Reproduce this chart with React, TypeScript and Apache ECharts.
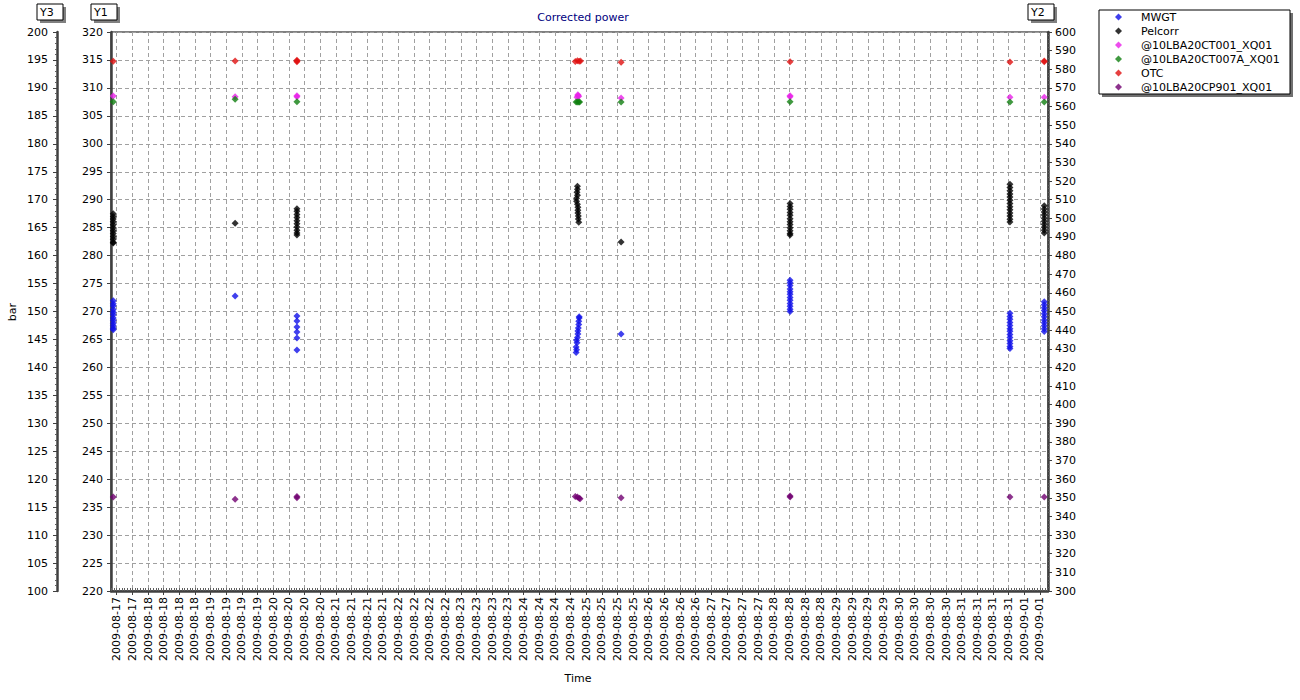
import React, { useEffect, useRef } from "react";
import * as echarts from "echarts";

const FONT = "DejaVu Sans";

// x axis: hours since 2009-08-17 00:00
const BASE = Date.UTC(2009, 7, 17, 0, 0);
const toH = (s: string) => {
  const [d, t] = s.split(" ");
  const [mo, da] = d.split("-").map(Number);
  const [hh, mm] = t.split(":").map(Number);
  return (Date.UTC(2009, mo - 1, da, hh, mm) - BASE) / 3600000;
};

const xMin = "08-17 09:48";
const xMax = "09-01 09:06";
const firstTick = "08-17 12:00";
const lastTick = "09-01 06:00";

const y1Ticks = { min: 220, max: 320, interval: 5 };
const y2Ticks = { min: 300, max: 600, interval: 10 };
const y3Ticks = { min: 100, max: 200, interval: 5 };

const seriesNames = [
  "MWGT",
  "Pelcorr",
  "@10LBA20CT001_XQ01",
  "@10LBA20CT007A_XQ01",
  "OTC",
  "@10LBA20CP901_XQ01",
];
const seriesColors = ["#1010e8", "#000000", "#e820e8", "#108010", "#e01010", "#700070"];

const mwgt: [string, number][] = [
  ["08-17 10:40", 455.8], ["08-17 10:40", 454.2], ["08-17 10:40", 452.9], ["08-17 10:40", 451.1],
  ["08-17 10:40", 449.6], ["08-17 10:40", 448.3], ["08-17 10:40", 446.5], ["08-17 10:40", 445.2],
  ["08-17 10:40", 443.7], ["08-17 10:40", 442.4], ["08-17 10:40", 441.0], ["08-17 10:40", 440.2],
  ["08-19 09:24", 458.3],
  ["08-20 09:06", 447.6], ["08-20 09:06", 444.9], ["08-20 09:06", 441.7], ["08-20 09:06", 439.0],
  ["08-20 09:06", 435.8], ["08-20 09:06", 429.3],
  ["08-24 20:10", 428.0], ["08-24 20:20", 429.5], ["08-24 20:10", 431.0], ["08-24 20:30", 433.2],
  ["08-24 20:20", 434.6], ["08-24 20:40", 436.1], ["08-24 20:50", 437.9], ["08-24 20:50", 439.5],
  ["08-24 21:00", 441.2], ["08-24 21:10", 443.0], ["08-24 21:10", 444.8], ["08-24 21:20", 446.5],
  ["08-24 21:20", 447.2],
  ["08-25 13:24", 437.9],
  ["08-28 06:12", 466.8], ["08-28 06:12", 465.4], ["08-28 06:12", 463.9], ["08-28 06:12", 462.1],
  ["08-28 06:12", 460.6], ["08-28 06:12", 459.2], ["08-28 06:12", 457.5], ["08-28 06:12", 456.0],
  ["08-28 06:12", 454.3], ["08-28 06:12", 452.8], ["08-28 06:12", 451.2], ["08-28 06:12", 450.0],
  ["08-31 18:30", 449.0], ["08-31 18:30", 447.3], ["08-31 18:30", 445.8], ["08-31 18:30", 444.1],
  ["08-31 18:30", 442.5], ["08-31 18:30", 440.8], ["08-31 18:30", 439.4], ["08-31 18:30", 437.6],
  ["08-31 18:30", 436.0], ["08-31 18:30", 434.3], ["08-31 18:30", 432.8], ["08-31 18:30", 431.2],
  ["08-31 18:30", 430.2],
  ["09-01 07:40", 455.2], ["09-01 07:40", 453.6], ["09-01 07:40", 452.0], ["09-01 07:40", 450.5],
  ["09-01 07:40", 448.8], ["09-01 07:40", 447.2], ["09-01 07:40", 445.5], ["09-01 07:40", 443.9],
  ["09-01 07:40", 442.4], ["09-01 07:40", 440.7], ["09-01 07:40", 439.3],
];

const pelcorr: [string, number][] = [
  ["08-17 10:40", 502.5], ["08-17 10:40", 501.0], ["08-17 10:40", 499.6], ["08-17 10:40", 498.1],
  ["08-17 10:40", 496.5], ["08-17 10:40", 495.0], ["08-17 10:40", 493.4], ["08-17 10:40", 491.9],
  ["08-17 10:40", 490.3], ["08-17 10:40", 488.8], ["08-17 10:40", 487.2], ["08-17 10:40", 486.7],
  ["08-19 09:24", 497.3],
  ["08-20 09:06", 505.2], ["08-20 09:06", 503.8], ["08-20 09:06", 502.0], ["08-20 09:06", 500.5],
  ["08-20 09:06", 498.7], ["08-20 09:06", 497.1], ["08-20 09:06", 495.4], ["08-20 09:06", 493.6],
  ["08-20 09:06", 492.1], ["08-20 09:06", 491.0],
  ["08-24 20:40", 517.2], ["08-24 20:40", 515.6], ["08-24 20:30", 514.0], ["08-24 20:40", 512.4],
  ["08-24 20:20", 510.8], ["08-24 20:20", 509.2], ["08-24 20:40", 507.6], ["08-24 20:50", 506.0],
  ["08-24 20:50", 504.4], ["08-24 20:50", 502.8], ["08-24 21:00", 501.2], ["08-24 21:00", 499.6],
  ["08-24 21:10", 497.9],
  ["08-25 13:24", 487.3],
  ["08-28 06:12", 508.0], ["08-28 06:12", 506.4], ["08-28 06:12", 504.9], ["08-28 06:12", 503.1],
  ["08-28 06:12", 501.6], ["08-28 06:12", 499.8], ["08-28 06:12", 498.2], ["08-28 06:12", 496.7],
  ["08-28 06:12", 495.0], ["08-28 06:12", 493.4], ["08-28 06:12", 491.9], ["08-28 06:12", 491.0],
  ["08-31 18:30", 518.3], ["08-31 18:30", 516.6], ["08-31 18:30", 514.8], ["08-31 18:30", 513.1],
  ["08-31 18:30", 511.5], ["08-31 18:30", 509.7], ["08-31 18:30", 508.0], ["08-31 18:30", 506.2],
  ["08-31 18:30", 504.6], ["08-31 18:30", 502.9], ["08-31 18:30", 501.2], ["08-31 18:30", 499.5],
  ["08-31 18:30", 498.0],
  ["09-01 07:40", 506.7], ["09-01 07:40", 505.0], ["09-01 07:40", 503.4], ["09-01 07:40", 501.8],
  ["09-01 07:40", 500.1], ["09-01 07:40", 498.5], ["09-01 07:40", 496.8], ["09-01 07:40", 495.2],
  ["09-01 07:40", 493.6], ["09-01 07:40", 492.1],
];

const ct001: [string, number][] = [
  ["08-17 10:40", 565.6], ["08-19 09:24", 565.3], ["08-20 09:06", 565.3], ["08-20 09:06", 565.8],
  ["08-24 20:30", 565.0], ["08-24 20:50", 565.8], ["08-24 20:50", 566.3], ["08-24 21:10", 565.5],
  ["08-25 13:24", 564.6], ["08-28 06:12", 565.3], ["08-28 06:12", 565.8],
  ["08-31 18:30", 565.0], ["09-01 07:40", 565.0],
];

const ct007a: [string, number][] = [
  ["08-17 10:40", 562.6], ["08-19 09:24", 563.9], ["08-20 09:06", 562.6],
  ["08-24 20:10", 562.4], ["08-24 20:40", 562.5], ["08-24 21:10", 562.4], ["08-24 21:30", 562.5],
  ["08-25 13:24", 562.4], ["08-28 06:12", 562.6], ["08-31 18:30", 562.4], ["09-01 07:40", 562.4],
];

const otc: [string, number][] = [
  ["08-17 10:40", 584.3], ["08-19 09:24", 584.4], ["08-20 09:06", 584.5], ["08-20 09:06", 584.0],
  ["08-20 09:06", 584.8], ["08-24 19:50", 584.2], ["08-24 20:40", 584.6], ["08-24 21:20", 584.3],
  ["08-24 21:50", 584.5], ["08-25 13:24", 583.7], ["08-28 06:12", 584.0], ["08-31 18:30", 583.9],
  ["09-01 07:40", 584.0], ["09-01 07:40", 584.5],
];

const cp901: [string, number][] = [
  ["08-17 10:40", 116.8], ["08-19 09:24", 116.4], ["08-20 09:06", 116.7], ["08-20 09:06", 116.9],
  ["08-24 19:50", 116.9], ["08-24 20:40", 116.8], ["08-24 21:20", 116.6], ["08-24 21:40", 116.5],
  ["08-25 13:24", 116.7], ["08-28 06:12", 117.0], ["08-28 06:12", 116.8],
  ["08-31 18:30", 116.8], ["09-01 07:40", 116.8],
];

const seriesData = [mwgt, pelcorr, ct001, ct007a, otc, cp901];
const seriesAxis = [1, 1, 1, 1, 1, 2];

const fmtDate = (v: number) => {
  const d = new Date(BASE + Math.round(v * 3600000));
  const p = (n: number) => String(n).padStart(2, "0");
  return `${d.getUTCFullYear()}-${p(d.getUTCMonth() + 1)}-${p(d.getUTCDate())}`;
};

export default function App() {
  const ref = useRef<HTMLDivElement>(null);
  useEffect(() => {
    if (!ref.current) return;
    const chart = echarts.init(ref.current, undefined, { renderer: "svg" });

    const majorTicks: number[] = [];
    for (let h = toH(firstTick); h <= toH(lastTick) + 0.001; h += 6) majorTicks.push(h);
    const minorTicks: number[] = [];
    for (let h = Math.ceil(toH(xMin)); h <= toH(xMax); h += 1) minorTicks.push(h);

    const axisLineStyle = { color: "#404040", width: 2.5 };
    const labelStyle = { fontFamily: FONT, fontSize: 11, color: "#000" };

    const boxes = [
      { x: 37, label: "Y3" },
      { x: 91, label: "Y1" },
      { x: 1028, label: "Y2" },
    ];
    const graphic: any[] = [];
    boxes.forEach((b) => {
      graphic.push({ type: "rect", z: 10, shape: { x: b.x + 3, y: 7, width: 26, height: 16 }, style: { fill: "#808080" } });
      graphic.push({ type: "rect", z: 11, shape: { x: b.x, y: 4, width: 26, height: 16 }, style: { fill: "#fff", stroke: "#000", lineWidth: 1 } });
      graphic.push({ type: "text", z: 12, x: b.x + 3, y: 12, style: { text: b.label, font: `11px ${FONT}`, fill: "#000", verticalAlign: "middle" } });
    });
    graphic.push({ type: "rect", z: 1, shape: { x: 1102, y: 13, width: 191, height: 84 }, style: { fill: "#707070" } });
    graphic.push({ type: "rect", z: 2, shape: { x: 1099, y: 10, width: 191, height: 84 }, style: { fill: "#fff", stroke: "#000", lineWidth: 1 } });
    graphic.push({ type: "text", x: 583, y: 17, style: { text: "Corrected power", font: `11px ${FONT}`, fill: "#000080", align: "center", verticalAlign: "middle" } });
    graphic.push({ type: "text", x: 578, y: 678, style: { text: "Time", font: `11px ${FONT}`, fill: "#000", align: "center", verticalAlign: "middle" } });
    graphic.push({ type: "text", x: 12, y: 312, rotation: Math.PI / 2, style: { text: "bar", font: `11px ${FONT}`, fill: "#000", align: "center", verticalAlign: "middle" } });

    chart.setOption({
      animation: false,
      backgroundColor: "#fff",
      textStyle: { fontFamily: FONT },
      grid: { left: 111, right: 252, top: 32, bottom: 109, show: true, borderColor: "#000", borderWidth: 1 },
      graphic,
      legend: {
        orient: "vertical",
        left: 1099,
        top: 10,
        padding: [0, 8, 0, 16],
        itemWidth: 7,
        itemHeight: 7,
        itemGap: 0,
        z: 20,
        data: seriesNames,
        textStyle: { ...labelStyle, lineHeight: 14, padding: [0, 0, 0, 14] },
      },
      xAxis: [
        {
          type: "value",
          min: toH(xMin),
          max: toH(xMax),
          position: "bottom",
          axisLine: { show: true, onZero: false, lineStyle: axisLineStyle },
          axisTick: { show: true, length: 4, customValues: majorTicks, lineStyle: { color: "#404040" } },
          axisLabel: { show: true, customValues: majorTicks, rotate: 90, margin: 6, formatter: (v: number) => fmtDate(v), ...labelStyle },
          splitLine: { show: true, lineStyle: { color: "#a0a0a0", type: [4, 3], width: 1 } },
        },
        {
          type: "value",
          min: toH(xMin),
          max: toH(xMax),
          position: "bottom",
          axisLine: { show: false },
          axisTick: { show: true, inside: true, length: 3, customValues: minorTicks, lineStyle: { color: "#606060" } },
          axisLabel: { show: false },
          splitLine: { show: false },
        },
      ],
      yAxis: [
        {
          type: "value",
          position: "left",
          ...y1Ticks,
          axisLine: { show: true, onZero: false, lineStyle: axisLineStyle },
          axisTick: { show: true, length: 4, lineStyle: { color: "#404040" } },
          axisLabel: { ...labelStyle, margin: 8 },
          splitLine: { show: true, lineStyle: { color: "#a0a0a0", type: [4, 3], width: 1 } },
        },
        {
          type: "value",
          position: "right",
          ...y2Ticks,
          axisLine: { show: true, onZero: false, lineStyle: axisLineStyle },
          axisTick: { show: true, length: 4, lineStyle: { color: "#404040" } },
          minorTick: { show: true, splitNumber: 5, length: 2, lineStyle: { color: "#606060" } },
          axisLabel: { ...labelStyle, margin: 7 },
          splitLine: { show: false },
        },
        {
          type: "value",
          position: "left",
          offset: 54,
          ...y3Ticks,
          axisLine: { show: true, onZero: false, lineStyle: axisLineStyle },
          axisTick: { show: true, length: 4, lineStyle: { color: "#404040" } },
          minorTick: { show: true, splitNumber: 5, length: 2, lineStyle: { color: "#606060" } },
          axisLabel: { ...labelStyle, margin: 9 },
          splitLine: { show: false },
        },
      ],
      series: seriesNames.map((name, i) => ({
        name,
        type: "scatter",
        xAxisIndex: 0,
        yAxisIndex: seriesAxis[i],
        symbol: "diamond",
        symbolSize: 7,
        itemStyle: { color: seriesColors[i] },
        data: seriesData[i].map(([t, v]) => [toH(t), v]),
      })),
    });
    return () => chart.dispose();
  }, []);
  return <div ref={ref} style={{ width: 1300, height: 700, position: "absolute", left: 0, top: 0 }} />;
}
